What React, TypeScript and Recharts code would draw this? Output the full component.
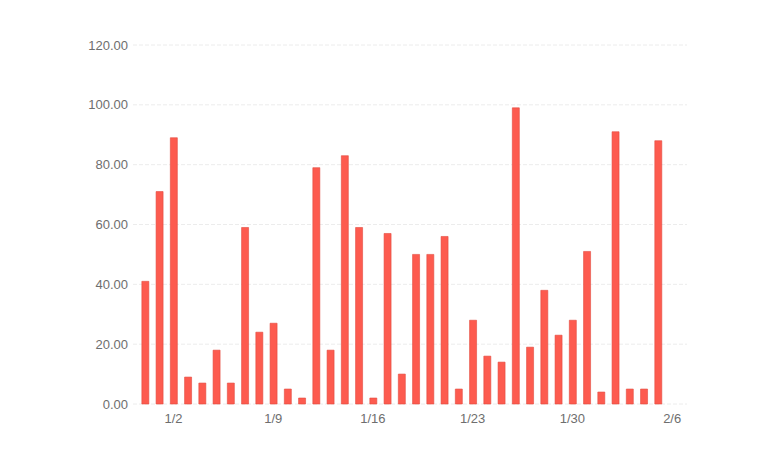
import React from "react";
import { BarChart, Bar, XAxis, YAxis, CartesianGrid } from "recharts";

const dates = [
  "12/31", "1/1", "1/2", "1/3", "1/4", "1/5", "1/6", "1/7", "1/8", "1/9",
  "1/10", "1/11", "1/12", "1/13", "1/14", "1/15", "1/16", "1/17", "1/18", "1/19",
  "1/20", "1/21", "1/22", "1/23", "1/24", "1/25", "1/26", "1/27", "1/28", "1/29",
  "1/30", "1/31", "2/1", "2/2", "2/3", "2/4", "2/5",
];
const values = [
  41, 71, 89, 9, 7, 18, 7, 59, 24, 27,
  5, 2, 79, 18, 83, 59, 2, 57, 10, 50,
  50, 56, 5, 28, 16, 14, 99, 19, 38, 23,
  28, 51, 4, 91, 5, 5, 88,
];
const tickLabels = ["1/2", "1/9", "1/16", "1/23", "1/30", "2/6"];
const tickPositions = [2, 9, 16, 23, 30, 37];
const yTicks = [0, 20, 40, 60, 80, 100, 120];

const data = values.map((v, i) => ({ idx: i, date: dates[i], value: v }));

export default function App() {
  return (
    <div style={{ position: "absolute", left: 0, top: 0, width: 770, height: 460, background: "#fff" }}>
      <BarChart
        width={770}
        height={460}
        data={data}
        margin={{ top: 45, right: 83, bottom: 26, left: 73 }}
      >
        <CartesianGrid
          horizontal={true}
          vertical={false}
          stroke="#ececec"
          strokeDasharray="4 2"
        />
        <XAxis
          dataKey="idx"
          type="number"
          domain={[-0.84, 38.04]}
          ticks={tickPositions}
          tickFormatter={(v: number) => tickLabels[tickPositions.indexOf(v)] ?? ""}
          axisLine={false}
          tickLine={false}
          tickSize={0}
          tickMargin={10}
          interval={0}
          height={30}
          allowDataOverflow={true}
          tick={{ fill: "#6e6e6e", fontSize: 13, fontFamily: "Liberation Sans, Arial, sans-serif" }}
        />
        <YAxis
          type="number"
          domain={[0, 120]}
          ticks={yTicks}
          width={60}
          axisLine={false}
          tickLine={false}
          tickSize={0}
          tickMargin={5}
          interval={0}
          tickFormatter={(v: number) => v.toFixed(2)}
          tick={{ fill: "#6e6e6e", fontSize: 13, fontFamily: "Liberation Sans, Arial, sans-serif" }}
        />
        <Bar
          dataKey="value"
          fill="#fd5b4f"
          stroke="#e24a3e"
          strokeWidth={0.6}
          barSize={7}
          isAnimationActive={false}
        />
      </BarChart>
    </div>
  );
}
